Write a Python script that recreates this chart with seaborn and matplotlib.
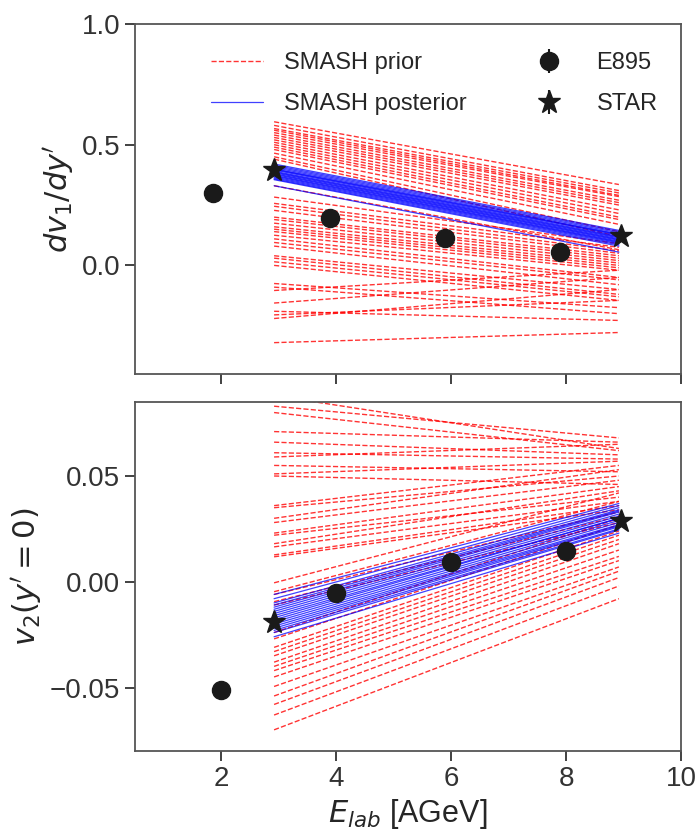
import numpy as np
import pandas as pd
import matplotlib
matplotlib.use("Agg")
import matplotlib.pyplot as plt
import seaborn as sns
from matplotlib.lines import Line2D

# ---------------- data ----------------
line_x = [2.92, 8.92]  # E_lab of line endpoints (STAR energies)

# top panel: dv1/dy'
prior_v1_start = [0.595, 0.58, 0.567, 0.56, 0.55, 0.54, 0.53, 0.52, 0.51, 0.50,
                  0.49, 0.48, 0.465, 0.45, 0.44, 0.33, 0.283, 0.257, 0.245, 0.228,
                  0.20, 0.19, 0.175, 0.16, 0.15, 0.14, 0.125, 0.11, 0.095, 0.08,
                  0.04, 0.03, 0.015, 0.0, -0.075, -0.09, -0.104, -0.156, -0.19,
                  -0.205, -0.22, -0.32]
prior_v1_end = [0.335, 0.31, 0.30, 0.29, 0.285, 0.27, 0.26, 0.25, 0.23, 0.215,
                0.20, 0.19, 0.17, 0.14, 0.12, 0.065, 0.09, 0.075, 0.06, 0.05,
                0.04, 0.03, 0.02, 0.01, 0.0, -0.01, -0.02, -0.05, -0.06, -0.08,
                -0.10, -0.12, -0.13, -0.145, -0.175, -0.20, -0.02, -0.05, -0.228,
                -0.145, -0.10, -0.278]
post_v1_start = [0.42, 0.415, 0.41, 0.405, 0.40, 0.398, 0.395, 0.39, 0.387, 0.384,
                 0.38, 0.377, 0.373, 0.37, 0.366, 0.362, 0.358, 0.355, 0.33]
post_v1_end = [0.145, 0.14, 0.135, 0.13, 0.128, 0.125, 0.12, 0.117, 0.114, 0.11,
               0.107, 0.104, 0.10, 0.097, 0.094, 0.09, 0.085, 0.08, 0.055]

e895_v1_x = [1.85, 3.9, 5.9, 7.9]
e895_v1 = [0.30, 0.195, 0.115, 0.057]
e895_v1_err = [0.02, 0.02, 0.02, 0.02]
star_v1_x = [2.92, 8.95]
star_v1 = [0.395, 0.12]
star_v1_err = [0.01, 0.01]

# bottom panel: v2(y'=0)
prior_v2_start = [0.088, 0.083, 0.080, 0.071, 0.066, 0.061, 0.059, 0.055, 0.051, 0.050,
                  0.036, 0.035, 0.030, 0.028, 0.023, 0.022, 0.018, 0.0165, 0.0127,
                  0.0118, -0.0005, -0.0047, -0.006, -0.0094, -0.011, -0.024, -0.027,
                  -0.031, -0.033, -0.035, -0.038, -0.040, -0.042, -0.045, -0.0495,
                  -0.054, -0.058, -0.063, -0.070]
prior_v2_end = [0.063, 0.068, 0.062, 0.066, 0.060, 0.058, 0.065, 0.052, 0.057, 0.046,
                0.055, 0.050, 0.053, 0.048, 0.045, 0.040, 0.043, 0.038, 0.036,
                0.034, 0.042, 0.038, 0.033, 0.031, 0.028, 0.030, 0.027,
                0.024, 0.022, 0.020, 0.018, 0.015, 0.012, 0.010, 0.007,
                0.005, 0.002, -0.002, -0.008]
post_v2_start = [-0.006, -0.008, -0.010, -0.011, -0.012, -0.013, -0.014, -0.015,
                 -0.016, -0.017, -0.018, -0.019, -0.020, -0.021, -0.022, -0.023,
                 -0.024, -0.026]
post_v2_end = [0.037, 0.036, 0.035, 0.034, 0.0335, 0.033, 0.032, 0.031, 0.030,
               0.030, 0.029, 0.028, 0.027, 0.0265, 0.026, 0.025, 0.0245, 0.023]

e895_v2_x = [2.0, 4.0, 6.0, 8.0]
e895_v2 = [-0.051, -0.0052, 0.0094, 0.0146]
e895_v2_err = [0.003, 0.003, 0.003, 0.003]
star_v2_x = [2.92, 8.95]
star_v2 = [-0.019, 0.0288]
star_v2_err = [0.001, 0.001]


def lines_frame(starts, ends):
    rows = []
    for i, (a, b) in enumerate(zip(starts, ends)):
        rows.append({"line": i, "E": line_x[0], "val": a})
        rows.append({"line": i, "E": line_x[1], "val": b})
    return pd.DataFrame(rows)


# ---------------- style ----------------
sns.set_theme(style="ticks")
plt.rcParams["font.family"] = ["Liberation Sans", "DejaVu Sans"]
plt.rcParams["axes.edgecolor"] = "#555555"
plt.rcParams["xtick.color"] = "#333333"
plt.rcParams["ytick.color"] = "#333333"
plt.rcParams["axes.linewidth"] = 1.3

fig = plt.figure(figsize=(6.97, 8.39), dpi=100)
ax1 = fig.add_axes([0.1937, 0.5542, 0.7833, 0.4172])
ax2 = fig.add_axes([0.1937, 0.1049, 0.7833, 0.4160], sharex=ax1)

red_kw = dict(color="red", linestyle="--", linewidth=1.0, alpha=0.8)
blue_kw = dict(color="blue", linestyle="-", linewidth=0.9, alpha=0.75)
mk_col = "#1a1a1a"

panels = [
    (ax1, prior_v1_start, prior_v1_end, post_v1_start, post_v1_end,
     e895_v1_x, e895_v1, e895_v1_err, star_v1_x, star_v1, star_v1_err),
    (ax2, prior_v2_start, prior_v2_end, post_v2_start, post_v2_end,
     e895_v2_x, e895_v2, e895_v2_err, star_v2_x, star_v2, star_v2_err),
]

for (ax, ps, pe, bs, be, ex, ey, eerr, sx, sy, serr) in panels:
    sns.lineplot(data=lines_frame(ps, pe), x="E", y="val", units="line",
                 estimator=None, ax=ax, legend=False, **red_kw)
    sns.lineplot(data=lines_frame(bs, be), x="E", y="val", units="line",
                 estimator=None, ax=ax, legend=False, **blue_kw)
    ax.errorbar(ex, ey, yerr=eerr, fmt="o", color=mk_col, ms=13,
                elinewidth=1.5, capsize=0, zorder=5)
    ax.errorbar(sx, sy, yerr=serr, fmt="*", color=mk_col, ms=17,
                elinewidth=1.5, capsize=0, zorder=5)
    ax.tick_params(axis="both", labelsize=20, length=7, width=1.3)
    ax.set_xlabel("")
    ax.set_ylabel("")

ax1.set_xlim(0.5, 10)
ax1.set_xticks([2, 4, 6, 8, 10])
ax1.tick_params(axis="x", labelbottom=False)
ax1.set_ylim(-0.45, 1.0)
ax1.set_yticks([0.0, 0.5, 1.0])
ax1.set_ylabel(r"$dv_1/dy'$", fontsize=22)

ax2.set_ylim(-0.08, 0.085)
ax2.set_yticks([-0.05, 0.0, 0.05])
ax2.set_yticklabels(["\u22120.05", "0.00", "0.05"])
ax2.set_ylabel(r"$v_2(y'=0)$", fontsize=22)
ax2.set_xlabel(r"$E_{lab}$ [AGeV]", fontsize=22)

# legend
h_prior = Line2D([], [], **red_kw)
h_post = Line2D([], [], **blue_kw)
h_e895 = ax1.errorbar([], [], yerr=[], fmt="o", color=mk_col, ms=13, elinewidth=1.5)
h_star = ax1.errorbar([], [], yerr=[], fmt="*", color=mk_col, ms=17, elinewidth=1.5)
ax1.legend([h_prior, h_post, h_e895, h_star],
           ["SMASH prior", "SMASH posterior", "E895", "STAR"],
           ncol=2, frameon=False, fontsize=17, loc="upper left",
           bbox_to_anchor=(0.1, 0.98), handlelength=2.2, columnspacing=2.4,
           labelspacing=0.8, handletextpad=0.9)

fig.savefig("out.png", dpi=100)
